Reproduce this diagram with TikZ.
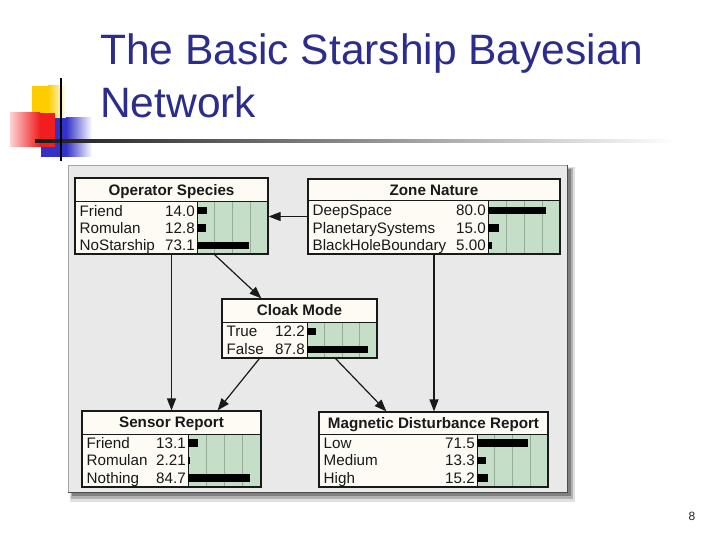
\documentclass[tikz,border=0pt]{standalone}
\usepackage{fontspec}
\setmainfont{Liberation Sans}
\usetikzlibrary{arrows.meta,fit}
\definecolor{ttlblue}{RGB}{44,44,140}
\definecolor{bncream}{RGB}{253,251,244}
\definecolor{bngreen}{RGB}{197,222,200}
\definecolor{bngrid}{RGB}{150,172,153}
\definecolor{panelgray}{RGB}{233,233,233}
\definecolor{decyellow}{RGB}{255,204,0}
\definecolor{decred}{RGB}{240,30,30}
\definecolor{decblue}{RGB}{50,50,200}

% #1 name, #2 x1, #3 ytop, #4 x2, #5 xdiv, #6 ytitle, #7 ybottom, #8 title
\newcommand{\bnnode}[8]{%
  \fill[bncream] (#2,#3) rectangle (#4,#7);
  \fill[bngreen] (#5,#6) rectangle (#4,#7);
  \foreach \f in {0.25,0.5,0.75}
    \draw[bngrid, line width=0.8pt] ({#5+(#4-#5)*\f},#6) -- ({#5+(#4-#5)*\f},#7);
  \node[ttltxt, anchor=base] (#1-title) at ({(#2+#4)/2},{(#3+#6)/2+5.3}) {#8};
  \draw[black!90, line width=1pt] (#2,#6) -- (#4,#6) (#5,#6) -- (#5,#7);
  \node[draw=black!90, line width=1.2pt, inner sep=0pt, fit={(#2,#3) (#4,#7)}] (#1) {};
}
% #1 x1, #2 xdiv, #3 x2, #4 ycenter, #5 label, #6 value, #7 pct
\newcommand{\bnrow}[7]{%
  \node[rowtxt, anchor=base west] at (#1+4.5,#4+5.4) {#5};
  \node[rowtxt, anchor=base east] at (#2-2,#4+5.4) {#6};
  \fill[black] (#2,#4-3.7) rectangle ({#2+(#3-#2)*#7/100},#4+3.7);
}

\begin{document}
\begin{tikzpicture}[x=1pt,y=-1pt,
  bnedge/.style={line width=1.2pt, draw=black!90, -{Triangle[length=12pt,width=9pt]}},
  rowtxt/.style={font=\fontsize{15.2}{18}\selectfont, inner sep=0pt, text=black!90},
  ttltxt/.style={font=\bfseries\fontsize{15.2}{18}\selectfont, inner sep=0pt, text=black!90},
  title/.style={font=\fontsize{42.5}{50}\selectfont, text=ttlblue, inner sep=0pt, anchor=base west}]
\useasboundingbox (0,0) rectangle (720,540);
\fill[white] (0,0) rectangle (720,540);

% decoration
\fill[decyellow] (32,86) rectangle (48,118);
\shade[left color=decyellow, right color=white] (48,86) rectangle (66,118);
\fill[decblue] (41,118) rectangle (66,157);
\shade[left color=decblue, right color=white] (66,118) rectangle (92,157);
\shade[left color=decred!20, right color=decred] (10,113) rectangle (40,147);
\fill[decred] (40,113) rectangle (55,147);
\shade[left color=black!90, middle color=black!45, right color=white] (35,139.8) rectangle (677,142.2);
\draw[black, line width=2pt] (61,78) -- (61,161);

% title
\node[title] (t1) at (100,65) {The Basic Starship Bayesian};
\node[title] (t2) at (100,118) {Network};

% panel
\fill[black!12] (70,167) rectangle (575,502);
\fill[black!30] (71,168) rectangle (573,499);
\fill[black!50] (72,169) rectangle (571,496);
\fill[panelgray] (68,165) rectangle (568,493);
\draw[black!35, line width=1pt] (68.5,493) -- (68.5,165.5) -- (568,165.5);
\draw[black!70, line width=1.5pt] (567.5,165) -- (567.5,492.5) -- (68,492.5);

% nodes
\bnnode{species}{75}{178}{268}{197}{202}{254}{Operator Species}
\bnrow{75}{197}{268}{210.7}{Friend}{14.0}{14.0}
\bnrow{75}{197}{268}{228}{Romulan}{12.8}{12.8}
\bnrow{75}{197}{268}{245.3}{NoStarship}{73.1}{73.1}

\bnnode{zone}{308}{179}{560}{488}{201}{254}{Zone Nature}
\bnrow{308}{488}{560}{210.5}{DeepSpace}{80.0}{80.0}
\bnrow{308}{488}{560}{228}{PlanetarySystems}{15.0}{15.0}
\bnrow{308}{488}{560}{245.5}{BlackHoleBoundary}{5.00}{5.00}

\bnnode{cloak}{222}{299}{377}{307}{322}{358}{Cloak Mode}
\bnrow{222}{307}{377}{331.5}{True}{12.2}{12.2}
\bnrow{222}{307}{377}{349.5}{False}{87.8}{87.8}

\bnnode{sensor}{82}{411}{261}{188}{434}{487}{Sensor Report}
\bnrow{82}{188}{261}{443}{Friend}{13.1}{13.1}
\bnrow{82}{188}{261}{460.5}{Romulan}{2.21}{2.21}
\bnrow{82}{188}{261}{478}{Nothing}{84.7}{84.7}

\bnnode{magnetic}{319}{412}{548}{477}{434}{487}{Magnetic Disturbance Report}
\bnrow{319}{477}{548}{443}{Low}{71.5}{71.5}
\bnrow{319}{477}{548}{460.5}{Medium}{13.3}{13.3}
\bnrow{319}{477}{548}{478}{High}{15.2}{15.2}

% edges
\draw[bnedge] (zone.west) -- (zone.west -| species.east);
\draw[bnedge] (species.south) -- (sensor.north);
\draw[bnedge] (zone.south) -- (zone.south |- magnetic.north);
\draw[bnedge] ([xshift=43pt]species.south) -- ([xshift=40pt]cloak.north west);
\draw[bnedge] ([xshift=38pt]cloak.south west) -- ([xshift=-44pt]sensor.north east);
\draw[bnedge] ([xshift=-42pt]cloak.south east) -- ([xshift=68pt]magnetic.north west);

% page number
\node[font=\fontsize{12}{14}\selectfont, text=black!85, inner sep=0pt, anchor=base] (pg) at (692,520) {8};
\end{tikzpicture}
\end{document}
